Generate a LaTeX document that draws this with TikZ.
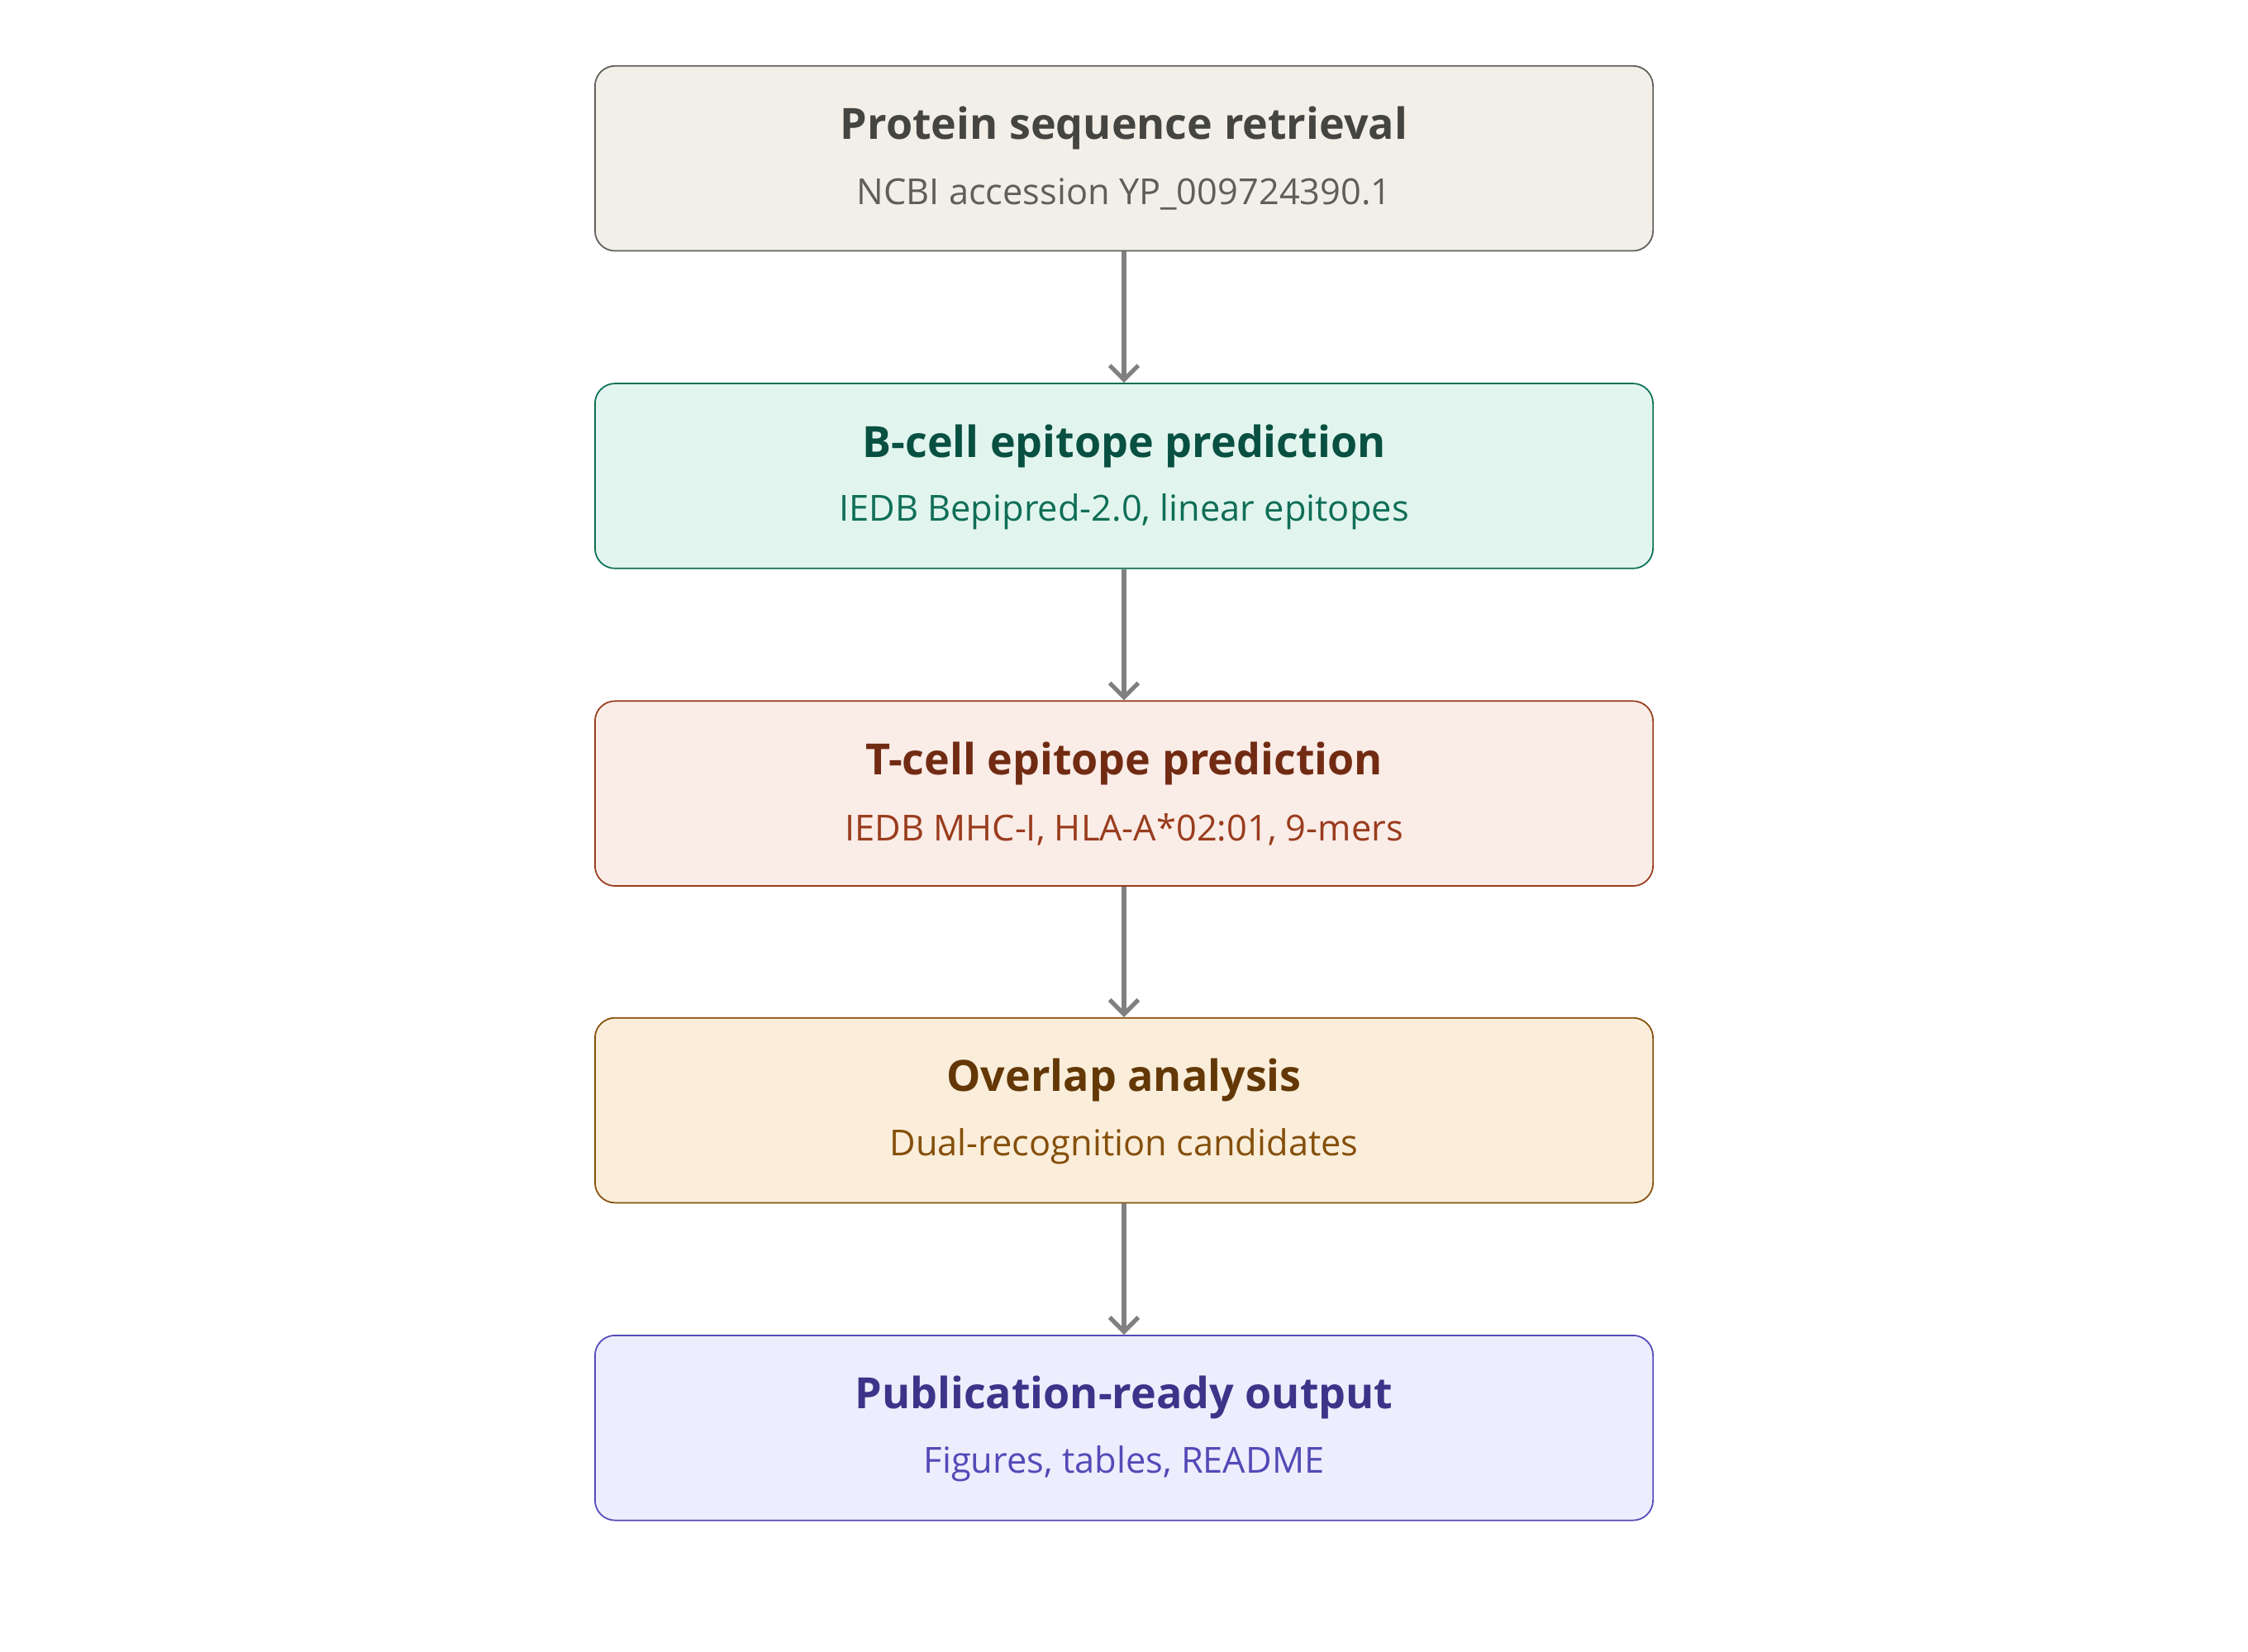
\documentclass[tikz,border=0pt]{standalone}
\usepackage{fontspec}
\setmainfont{Open Sans}
\usetikzlibrary{arrows.meta}
\definecolor{f1}{HTML}{F2EFE9}\definecolor{b1}{HTML}{5F5E5A}\definecolor{t1}{HTML}{444441}\definecolor{s1}{HTML}{5F5E5A}
\definecolor{f2}{HTML}{E1F5EE}\definecolor{b2}{HTML}{0F6E56}\definecolor{t2}{HTML}{085041}\definecolor{s2}{HTML}{0F6E56}
\definecolor{f3}{HTML}{FAECE7}\definecolor{b3}{HTML}{993C1D}\definecolor{t3}{HTML}{712B13}\definecolor{s3}{HTML}{993C1D}
\definecolor{f4}{HTML}{FAEEDA}\definecolor{b4}{HTML}{854F0B}\definecolor{t4}{HTML}{633806}\definecolor{s4}{HTML}{854F0B}
\definecolor{f5}{HTML}{EEEDFE}\definecolor{b5}{HTML}{534AB7}\definecolor{t5}{HTML}{3C3489}\definecolor{s5}{HTML}{534AB7}
\definecolor{arr}{HTML}{808080}
\begin{document}
\begin{tikzpicture}[x=0.5pt,y=-0.5pt,
 box/.style={draw=b#1,fill=f#1,line width=0.5pt,rounded corners=7pt,minimum width=369pt,minimum height=64.5pt,inner sep=0pt},
 ttl/.style={text=t#1,font=\fontsize{15}{18}\selectfont\bfseries},
 sub/.style={text=s#1,font=\fontsize{12.5}{15}\selectfont},
 con/.style={draw=arr,line width=1.5pt,-{Straight Barb[length=5pt,width=10pt]}}]
\useasboundingbox (0,0) rectangle (1568,1152);
\foreach \i/\y/\t/\s in {1/110.5/Protein sequence retrieval/NCBI accession YP\_009724390.1,
 2/332/B-cell epitope prediction/{IEDB Bepipred-2.0, linear epitopes},
 3/553.5/T-cell epitope prediction/{IEDB MHC-I, HLA-A*02:01, 9-mers},
 4/774.5/Overlap analysis/Dual-recognition candidates,
 5/996/Publication-ready output/{Figures, tables, README}}{
 \node[box=\i] (n\i) at (784,\y) {};
 \node[ttl=\i] (t\i) at (784,\y-21) {\t};
 \node[sub=\i] (s\i) at (784,\y+25) {\s};
}
\foreach \a/\b in {1/2,2/3,3/4,4/5}{\draw[con] (n\a) -- (n\b);}
\end{tikzpicture}
\end{document}
